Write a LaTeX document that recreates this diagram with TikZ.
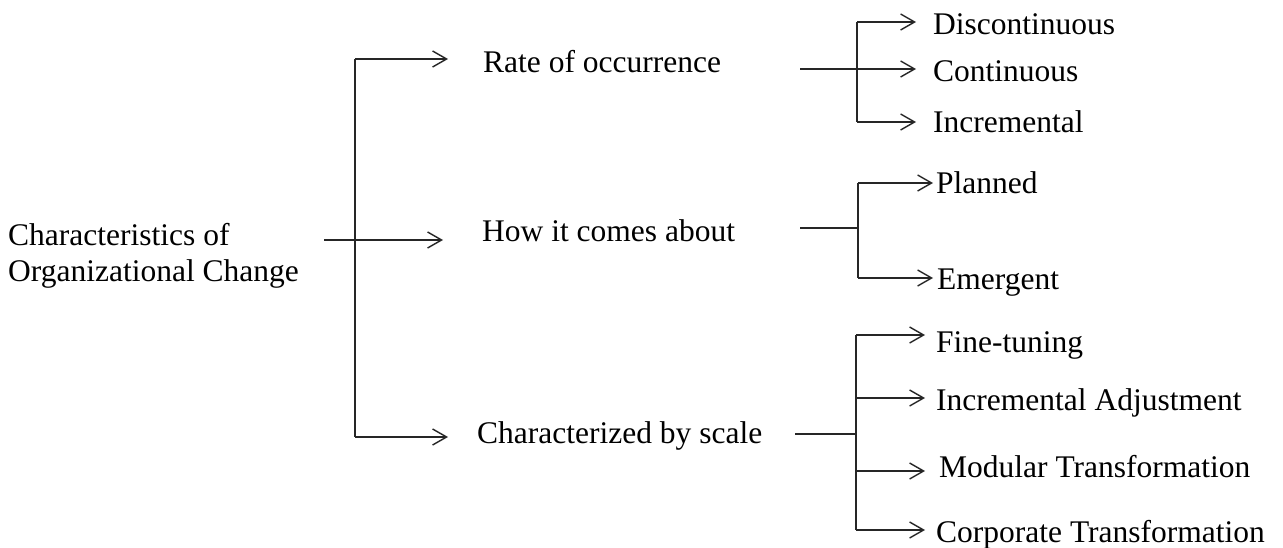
\documentclass[tikz,border=0pt]{standalone}
\usepackage{fontspec}
\setmainfont{Liberation Serif}
\usetikzlibrary{arrows.meta}
\begin{document}
\begin{tikzpicture}[x=1pt,y=-1pt,
  lbl/.style={anchor=base west,inner sep=0pt,font=\fontsize{31.5}{36}\selectfont},
  ln/.style={line width=1.4pt,draw=black!85},
  arr/.style={ln,-{Straight Barb[length=14pt,width=16pt,line width=1.4pt]}}]
\useasboundingbox (0,0) rectangle (1283,548);
% texts
\node[lbl,align=left] (root) at (8,282) {Characteristics of\\Organizational Change};
\node[lbl] (rate) at (483,73) {Rate of occurrence};
\node[lbl] (how) at (482,242) {How it comes about};
\node[lbl] (scale) at (477,443) {Characterized by scale};
\node[lbl] (disc) at (933,35) {Discontinuous};
\node[lbl] (cont) at (933,82) {Continuous};
\node[lbl] (incr) at (933,133) {Incremental};
\node[lbl] (plan) at (936,194) {Planned};
\node[lbl] (emer) at (937,290) {Emergent};
\node[lbl] (fine) at (936,352) {Fine-tuning};
\node[lbl] (adj) at (936,410) {Incremental Adjustment};
\node[lbl] (mod) at (939,477) {Modular Transformation};
\node[lbl] (corp) at (936,542) {Corporate Transformation};
% junction coordinates
\coordinate (r0) at (324,240);
\coordinate (rt) at (355,59);
\coordinate (rm) at (355,240);
\coordinate (rb) at (355,437);
\coordinate (aRate) at (448,59);
\coordinate (aHow) at (443,240);
\coordinate (aScale) at (448,437);
% level 1
\draw[ln] (r0) -- (rm);
\draw[ln] (rt) -- (rb);
\draw[arr] (rt) -- (aRate);
\draw[arr] (rm) -- (aHow);
\draw[arr] (rb) -- (aScale);
% rate branch
\coordinate (s1) at (800,69);
\coordinate (j1) at (857,69);
\coordinate (j1t) at (857,22);
\coordinate (j1b) at (857,122);
\draw[ln] (s1) -- (j1);
\draw[ln] (j1t) -- (j1b);
\coordinate (e11) at (916,22);
\coordinate (e12) at (916,69);
\coordinate (e13) at (916,122);
\draw[arr] (j1t) -- (e11);
\draw[arr] (j1) -- (e12);
\draw[arr] (j1b) -- (e13);
% how branch
\coordinate (s2) at (800,228);
\coordinate (j2) at (858,228);
\coordinate (j2t) at (858,183);
\coordinate (j2b) at (858,278);
\draw[ln] (s2) -- (j2);
\draw[ln] (j2t) -- (j2b);
\coordinate (e21) at (933,183);
\coordinate (e22) at (933,278);
\draw[arr] (j2t) -- (e21);
\draw[arr] (j2b) -- (e22);
% scale branch
\coordinate (s3) at (795,434);
\coordinate (j3) at (856,434);
\coordinate (j3a) at (856,335);
\coordinate (j3b) at (856,398);
\coordinate (j3c) at (856,471);
\coordinate (j3d) at (856,530);
\draw[ln] (s3) -- (j3);
\draw[ln] (j3a) -- (j3d);
\coordinate (e31) at (925,335);
\coordinate (e32) at (925,398);
\coordinate (e33) at (925,471);
\coordinate (e34) at (925,530);
\draw[arr] (j3a) -- (e31);
\draw[arr] (j3b) -- (e32);
\draw[arr] (j3c) -- (e33);
\draw[arr] (j3d) -- (e34);
\end{tikzpicture}
\end{document}
